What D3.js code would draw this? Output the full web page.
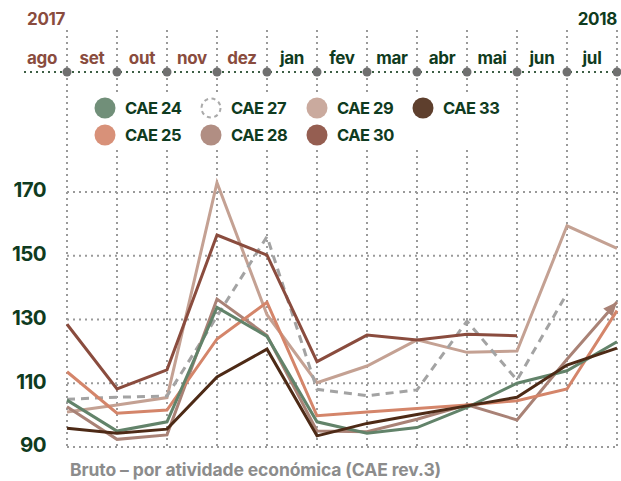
<!DOCTYPE html>
<html>
<head>
<meta charset="utf-8">
<script src="https://cdn.jsdelivr.net/npm/d3@7"></script>
<style>
  body { margin: 0; background: #fff; }
  svg text { font-family: Inter, "Liberation Sans", sans-serif; font-weight: 700; }
</style>
</head>
<body>
<div id="viz"></div>
<script>
// months (label sits between two dots), years
var months = ["ago", "set", "out", "nov", "dez", "jan", "fev", "mar", "abr", "mai", "jun", "jul"];
var years = ["2017", "2018"];
var yTicks = [90, 110, 130, 150, 170];

// series values (null = no value)
var cae24 = [104.7, 95.0, 97.9, 133.8, 124.7, 97.9, 94.3, 96.1, 102.4, 110.0, 113.9, 123.0];
var cae25 = [113.6, 100.6, 101.6, 123.9, 135.4, 99.8, 101.0, 102.1, 103.2, 104.5, 108.2, 132.8];
var cae27 = [105.0, 105.6, 106.0, 131.0, 156.0, 108.1, 106.1, 107.9, 129.5, 111.0, 138.2, null];
var cae28 = [102.6, 92.4, 93.8, 136.4, 125.0, 95.0, 94.8, 98.7, 103.2, 98.5, 117.5, 135.5];
var cae29 = [101.0, 103.2, 105.5, 172.9, 131.5, 110.2, 115.4, 123.6, 119.7, 120.1, 159.4, 152.3];
var cae30 = [128.5, 108.2, 114.2, 156.5, 150.2, 116.8, 125.1, 123.6, 125.4, 124.9, null, null];
var cae33 = [95.9, 94.3, 95.6, 112.0, 120.7, 93.5, 97.4, 100.2, 102.9, 105.6, 115.7, 121.0];

var series = [
    {name: "CAE 24", values: cae24, color: "#62836a", dash: null},
    {name: "CAE 25", values: cae25, color: "#d4856a", dash: null},
    {name: "CAE 27", values: cae27, color: "#a3a3a3", dash: "8,6"},
    {name: "CAE 28", values: cae28, color: "#a98276", dash: null, arrow: true},
    {name: "CAE 29", values: cae29, color: "#c4a193", dash: null},
    {name: "CAE 30", values: cae30, color: "#8a4c3e", dash: null},
    {name: "CAE 33", values: cae33, color: "#4d2a16", dash: null}
];
// draw order (back to front)
var drawOrder = ["CAE 29", "CAE 27", "CAE 30", "CAE 28", "CAE 25", "CAE 24", "CAE 33"];

var legendCells = [
    {name: "CAE 24", col: 0, row: 0}, {name: "CAE 27", col: 1, row: 0},
    {name: "CAE 29", col: 2, row: 0}, {name: "CAE 33", col: 3, row: 0},
    {name: "CAE 25", col: 0, row: 1}, {name: "CAE 28", col: 1, row: 1},
    {name: "CAE 30", col: 2, row: 1}
];

var width = 621,
    height = 481;

var brown = "#8a4c3e",
    green = "#0f3b20",
    grid = "#9a9a9a";

var svg = d3.select("#viz").append("svg")
    .attr("width", width)
    .attr("height", height);

var x = d3.scaleLinear().domain([0, 11]).range([67, 617]);
var y = d3.scaleLinear().domain([90, 170]).range([447, 192]);

// vertical dotted grid (header + chart)
svg.append("g").selectAll("line")
    .data(d3.range(12))
    .enter().append("line")
    .attr("x1", function(d) { return x(d); })
    .attr("x2", function(d) { return x(d); })
    .attr("y1", 30)
    .attr("y2", y(90))
    .attr("stroke", grid)
    .attr("stroke-width", 2)
    .attr("stroke-dasharray", "2,4");

// horizontal grid
svg.append("g").selectAll("line")
    .data(yTicks)
    .enter().append("line")
    .attr("x1", x(0))
    .attr("x2", x(11))
    .attr("y1", function(d) { return y(d); })
    .attr("y2", function(d) { return y(d); })
    .attr("stroke", grid)
    .attr("stroke-width", 2)
    .attr("stroke-dasharray", "2,4");

// y axis labels
svg.append("g").selectAll("text")
    .data(yTicks)
    .enter().append("text")
    .attr("x", 46)
    .attr("y", function(d) { return y(d) - 2; })
    .attr("dy", "0.36em")
    .attr("text-anchor", "end")
    .attr("font-size", 20.5)
    .attr("font-weight", 800)
    .attr("letter-spacing", -0.6)
    .attr("fill", green)
    .text(function(d) { return d; });

// header: timeline
svg.append("line")
    .attr("x1", 24).attr("x2", width)
    .attr("y1", 72).attr("y2", 72)
    .attr("stroke", "#3d5f45")
    .attr("stroke-width", 2)
    .attr("stroke-dasharray", "2,4");

svg.append("g").selectAll("circle")
    .data(d3.range(12))
    .enter().append("circle")
    .attr("cx", function(d) { return x(d); })
    .attr("cy", 72)
    .attr("r", 4.5)
    .attr("fill", "#707070");

svg.append("g").selectAll("text")
    .data(months)
    .enter().append("text")
    .attr("x", function(d, i) { return x(i - 0.5); })
    .attr("y", 64)
    .attr("text-anchor", "middle")
    .attr("font-size", 17)
    .attr("letter-spacing", -0.3)
    .attr("fill", function(d, i) { return i < 5 ? brown : green; })
    .text(function(d) { return d; });

svg.append("text")
    .attr("x", 27).attr("y", 25)
    .attr("font-size", 17)
    .attr("letter-spacing", -0.3)
    .attr("fill", brown)
    .text(years[0]);

svg.append("text")
    .attr("x", 617).attr("y", 25)
    .attr("text-anchor", "end")
    .attr("font-size", 17)
    .attr("letter-spacing", -0.3)
    .attr("fill", green)
    .text(years[1]);

// arrow marker for CAE 28
svg.append("defs").append("marker")
    .attr("id", "arrow")
    .attr("markerUnits", "userSpaceOnUse")
    .attr("viewBox", "0 0 14 12")
    .attr("refX", 14)
    .attr("refY", 6)
    .attr("markerWidth", 14)
    .attr("markerHeight", 12)
    .attr("orient", "auto")
    .append("path")
    .attr("d", "M0,0 L14,6 L0,12 Z")
    .attr("fill", "#a98276");

// lines
var line = d3.line()
    .defined(function(d) { return d != null; })
    .x(function(d, i) { return x(i); })
    .y(function(d) { return y(d); });

var byName = {};
series.forEach(function(s) { byName[s.name] = s; });

svg.append("g").selectAll("path")
    .data(drawOrder.map(function(n) { return byName[n]; }))
    .enter().append("path")
    .attr("d", function(d) { return line(d.values); })
    .attr("fill", "none")
    .attr("stroke", function(d) { return d.color; })
    .attr("stroke-width", 3)
    .attr("stroke-dasharray", function(d) { return d.dash; })
    .attr("marker-end", function(d) { return d.arrow ? "url(#arrow)" : null; });

// legend
svg.append("rect")
    .attr("x", 88).attr("y", 93)
    .attr("width", 424).attr("height", 57)
    .attr("fill", "#fff");

var legend = svg.append("g").selectAll("g")
    .data(legendCells)
    .enter().append("g")
    .attr("transform", function(d) {
        return "translate(" + (105 + d.col * 106) + "," + (108 + d.row * 27) + ")";
    });

legend.append("circle")
    .attr("r", function(d) { return byName[d.name].dash ? 9.5 : 10.5; })
    .attr("fill", function(d) { return byName[d.name].dash ? "none" : byName[d.name].color; })
    .attr("fill-opacity", 0.9)
    .attr("stroke", function(d) { return byName[d.name].dash ? "#aaa" : "none"; })
    .attr("stroke-width", 2)
    .attr("stroke-dasharray", function(d) { return byName[d.name].dash ? "4,3.5" : null; });

legend.append("text")
    .attr("x", 20)
    .attr("dy", "0.36em")
    .attr("font-size", 16.5)
    .attr("font-weight", 800)
    .attr("letter-spacing", -0.5)
    .attr("fill", green)
    .text(function(d) { return d.name; });

// caption
svg.append("text")
    .attr("x", 70).attr("y", 476)
    .attr("font-size", 17.5)
    .attr("font-weight", 600)
    .attr("letter-spacing", -0.1)
    .attr("fill", "#8c8c8c")
    .text("Bruto – por atividade económica (CAE rev.3)");
</script>
</body>
</html>
